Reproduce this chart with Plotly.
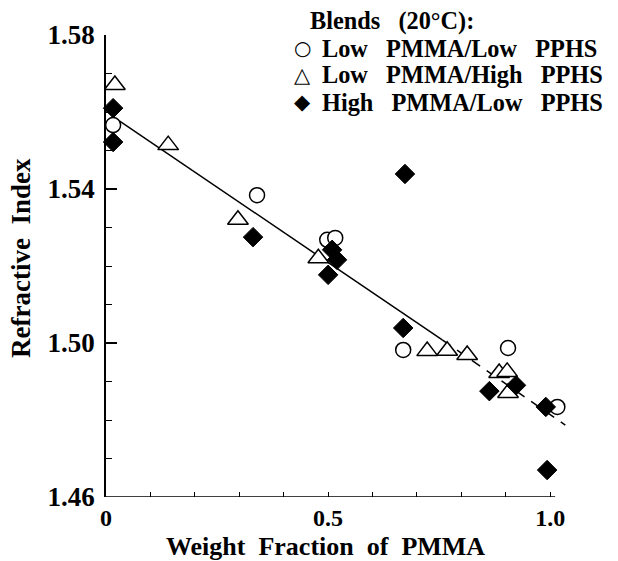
import plotly.graph_objects as go

# Low PMMA / Low PPHS (open circles)
circ_x = [0.016, 0.340, 0.498, 0.516, 0.669, 0.905, 1.016]
circ_y = [1.5566, 1.5384, 1.5268, 1.5273, 1.4982, 1.4987, 1.4834]

# Low PMMA / High PPHS (open triangles)
tri_x = [0.020, 0.140, 0.297, 0.478, 0.723, 0.768, 0.813, 0.885, 0.903, 0.905]
tri_y = [1.5670, 1.5514, 1.5320, 1.5220, 1.4979, 1.4980, 1.4969, 1.4922, 1.4925, 1.4870]

# High PMMA / Low PPHS (filled diamonds)
dia_x = [0.016, 0.016, 0.331, 0.673, 0.509, 0.520, 0.500, 0.669, 0.863, 0.923, 0.990, 0.993]
dia_y = [1.5610, 1.5522, 1.5275, 1.5439, 1.5242, 1.5216, 1.5177, 1.5039, 1.4875, 1.4890, 1.4834, 1.4670]

# fitted line (solid part and dashed extrapolation)
fit_solid_x = [0.030, 0.757]
fit_solid_y = [1.5577, 1.5008]
fit_dash_x = [0.757, 1.034]
fit_dash_y = [1.5008, 1.4787]

x_tickvals = [0, 0.5, 1.0]
x_ticktext = ["0", "0.5", "1.0"]
y_tickvals = [1.46, 1.50, 1.54, 1.58]
y_ticktext = ["1.46", "1.50", "1.54", "1.58"]

series_names = ["Low\u00a0\u00a0\u00a0PMMA/Low\u00a0\u00a0\u00a0PPHS",
                "Low\u00a0\u00a0\u00a0PMMA/High\u00a0\u00a0\u00a0PPHS",
                "High\u00a0\u00a0\u00a0PMMA/Low\u00a0\u00a0\u00a0PPHS"]
legend_title = "Blends\u00a0\u00a0\u00a0(20\u00b0C):"
legend_glyphs = ["\u25cb", "\u25b3", "\u25c6"]
x_title = "Weight\u00a0\u00a0Fraction\u00a0\u00a0of\u00a0\u00a0PMMA"
y_title = "Refractive\u00a0\u00a0Index"

FONT = "Liberation Serif"
SYMFONT = "DejaVu Sans"
fig = go.Figure()

fig.add_trace(go.Scatter(x=fit_solid_x, y=fit_solid_y, mode="lines",
                         line=dict(color="black", width=1.5), showlegend=False, hoverinfo="skip"))
fig.add_trace(go.Scatter(x=fit_dash_x, y=fit_dash_y, mode="lines",
                         line=dict(color="black", width=1.5, dash="10px,8px"), showlegend=False, hoverinfo="skip"))

fig.add_trace(go.Scatter(x=circ_x, y=circ_y, mode="markers", name=series_names[0], showlegend=False,
                         marker=dict(symbol="circle", size=15, color="white", line=dict(color="black", width=1.5)),
                         cliponaxis=False))
fig.add_trace(go.Scatter(x=tri_x, y=tri_y, mode="markers", name=series_names[1], showlegend=False,
                         marker=dict(symbol="triangle-up", size=18, color="white", line=dict(color="black", width=1.5)),
                         cliponaxis=False))
fig.add_trace(go.Scatter(x=dia_x, y=dia_y, mode="markers", name=series_names[2], showlegend=False,
                         marker=dict(symbol="diamond", size=15, color="black", line=dict(color="black", width=1)),
                         cliponaxis=False))

# bottom axis line (ends at 1.01 as in the original)
fig.add_shape(type="line", xref="x", yref="y", x0=0, x1=1.011, y0=1.46, y1=1.46,
              line=dict(color="black", width=1.5))

PL, PT, PW, PH = 106, 35, 462, 462
def px(xp):
    return (xp - PL) / PW
def py(yp):
    return (PT + PH - yp) / PH

# hand-built legend (text annotations, tight row spacing like the original)
LFS = 24.3
fig.add_annotation(text=legend_title, xref="paper", yref="paper", x=px(309), y=py(21),
                   xanchor="left", yanchor="middle", showarrow=False, borderpad=0,
                   font=dict(family=FONT, size=LFS, weight="bold", color="black"))
row_y = [48, 75, 102]
glyph_sizes = [20, 21, 21]
for name, glyph, gs, ry in zip(series_names, legend_glyphs, glyph_sizes, row_y):
    fig.add_annotation(text=name, xref="paper", yref="paper", x=px(321), y=py(ry),
                       xanchor="left", yanchor="middle", showarrow=False, borderpad=0,
                       font=dict(family=FONT, size=LFS, weight="bold", color="black"))
    fig.add_annotation(text=glyph, xref="paper", yref="paper", x=px(302), y=py(ry),
                       xanchor="center", yanchor="middle", showarrow=False, borderpad=0,
                       font=dict(family=SYMFONT, size=gs, color="black"))

# axis titles
fig.add_annotation(text=x_title, xref="paper", yref="paper", x=px(325), y=py(546.5),
                   xanchor="center", yanchor="middle", showarrow=False, borderpad=0,
                   font=dict(family=FONT, size=26, weight="bold", color="black"))
fig.add_annotation(text=y_title, xref="paper", yref="paper", x=px(21), y=py(258),
                   xanchor="center", yanchor="middle", showarrow=False, borderpad=0, textangle=-90,
                   font=dict(family=FONT, size=27, weight="bold", color="black"))

fig.update_layout(
    width=618, height=561,
    margin=dict(l=PL, r=618 - PL - PW, t=PT, b=561 - PT - PH),
    plot_bgcolor="white", paper_bgcolor="white",
    font=dict(family=FONT, size=26, color="black", weight="bold"),
    showlegend=False,
    xaxis=dict(
        range=[0, 1.04], showline=False, showgrid=False, zeroline=False,
        tickvals=x_tickvals, ticktext=x_ticktext, ticks="inside", ticklen=5, tickwidth=1.2,
        tickcolor="black", tickfont=dict(family=FONT, size=24, weight="bold"), ticklabelstandoff=4,
        minor=dict(dtick=0.1, tick0=0, ticks="inside", ticklen=5, tickwidth=1.2, tickcolor="black", showgrid=False),
    ),
    yaxis=dict(
        range=[1.46, 1.58], showline=True, linecolor="black", linewidth=1.5, mirror=False,
        showgrid=False, zeroline=False,
        tickvals=y_tickvals, ticktext=y_ticktext, ticks="inside", ticklen=11, tickwidth=1.5,
        tickcolor="black", tickfont=dict(family=FONT, size=27, weight="bold"), ticklabelstandoff=4,
        minor=dict(dtick=0.01, tick0=1.46, ticks="inside", ticklen=6, tickwidth=1.2, tickcolor="black", showgrid=False),
    ),
)

fig.write_html("out.html")
